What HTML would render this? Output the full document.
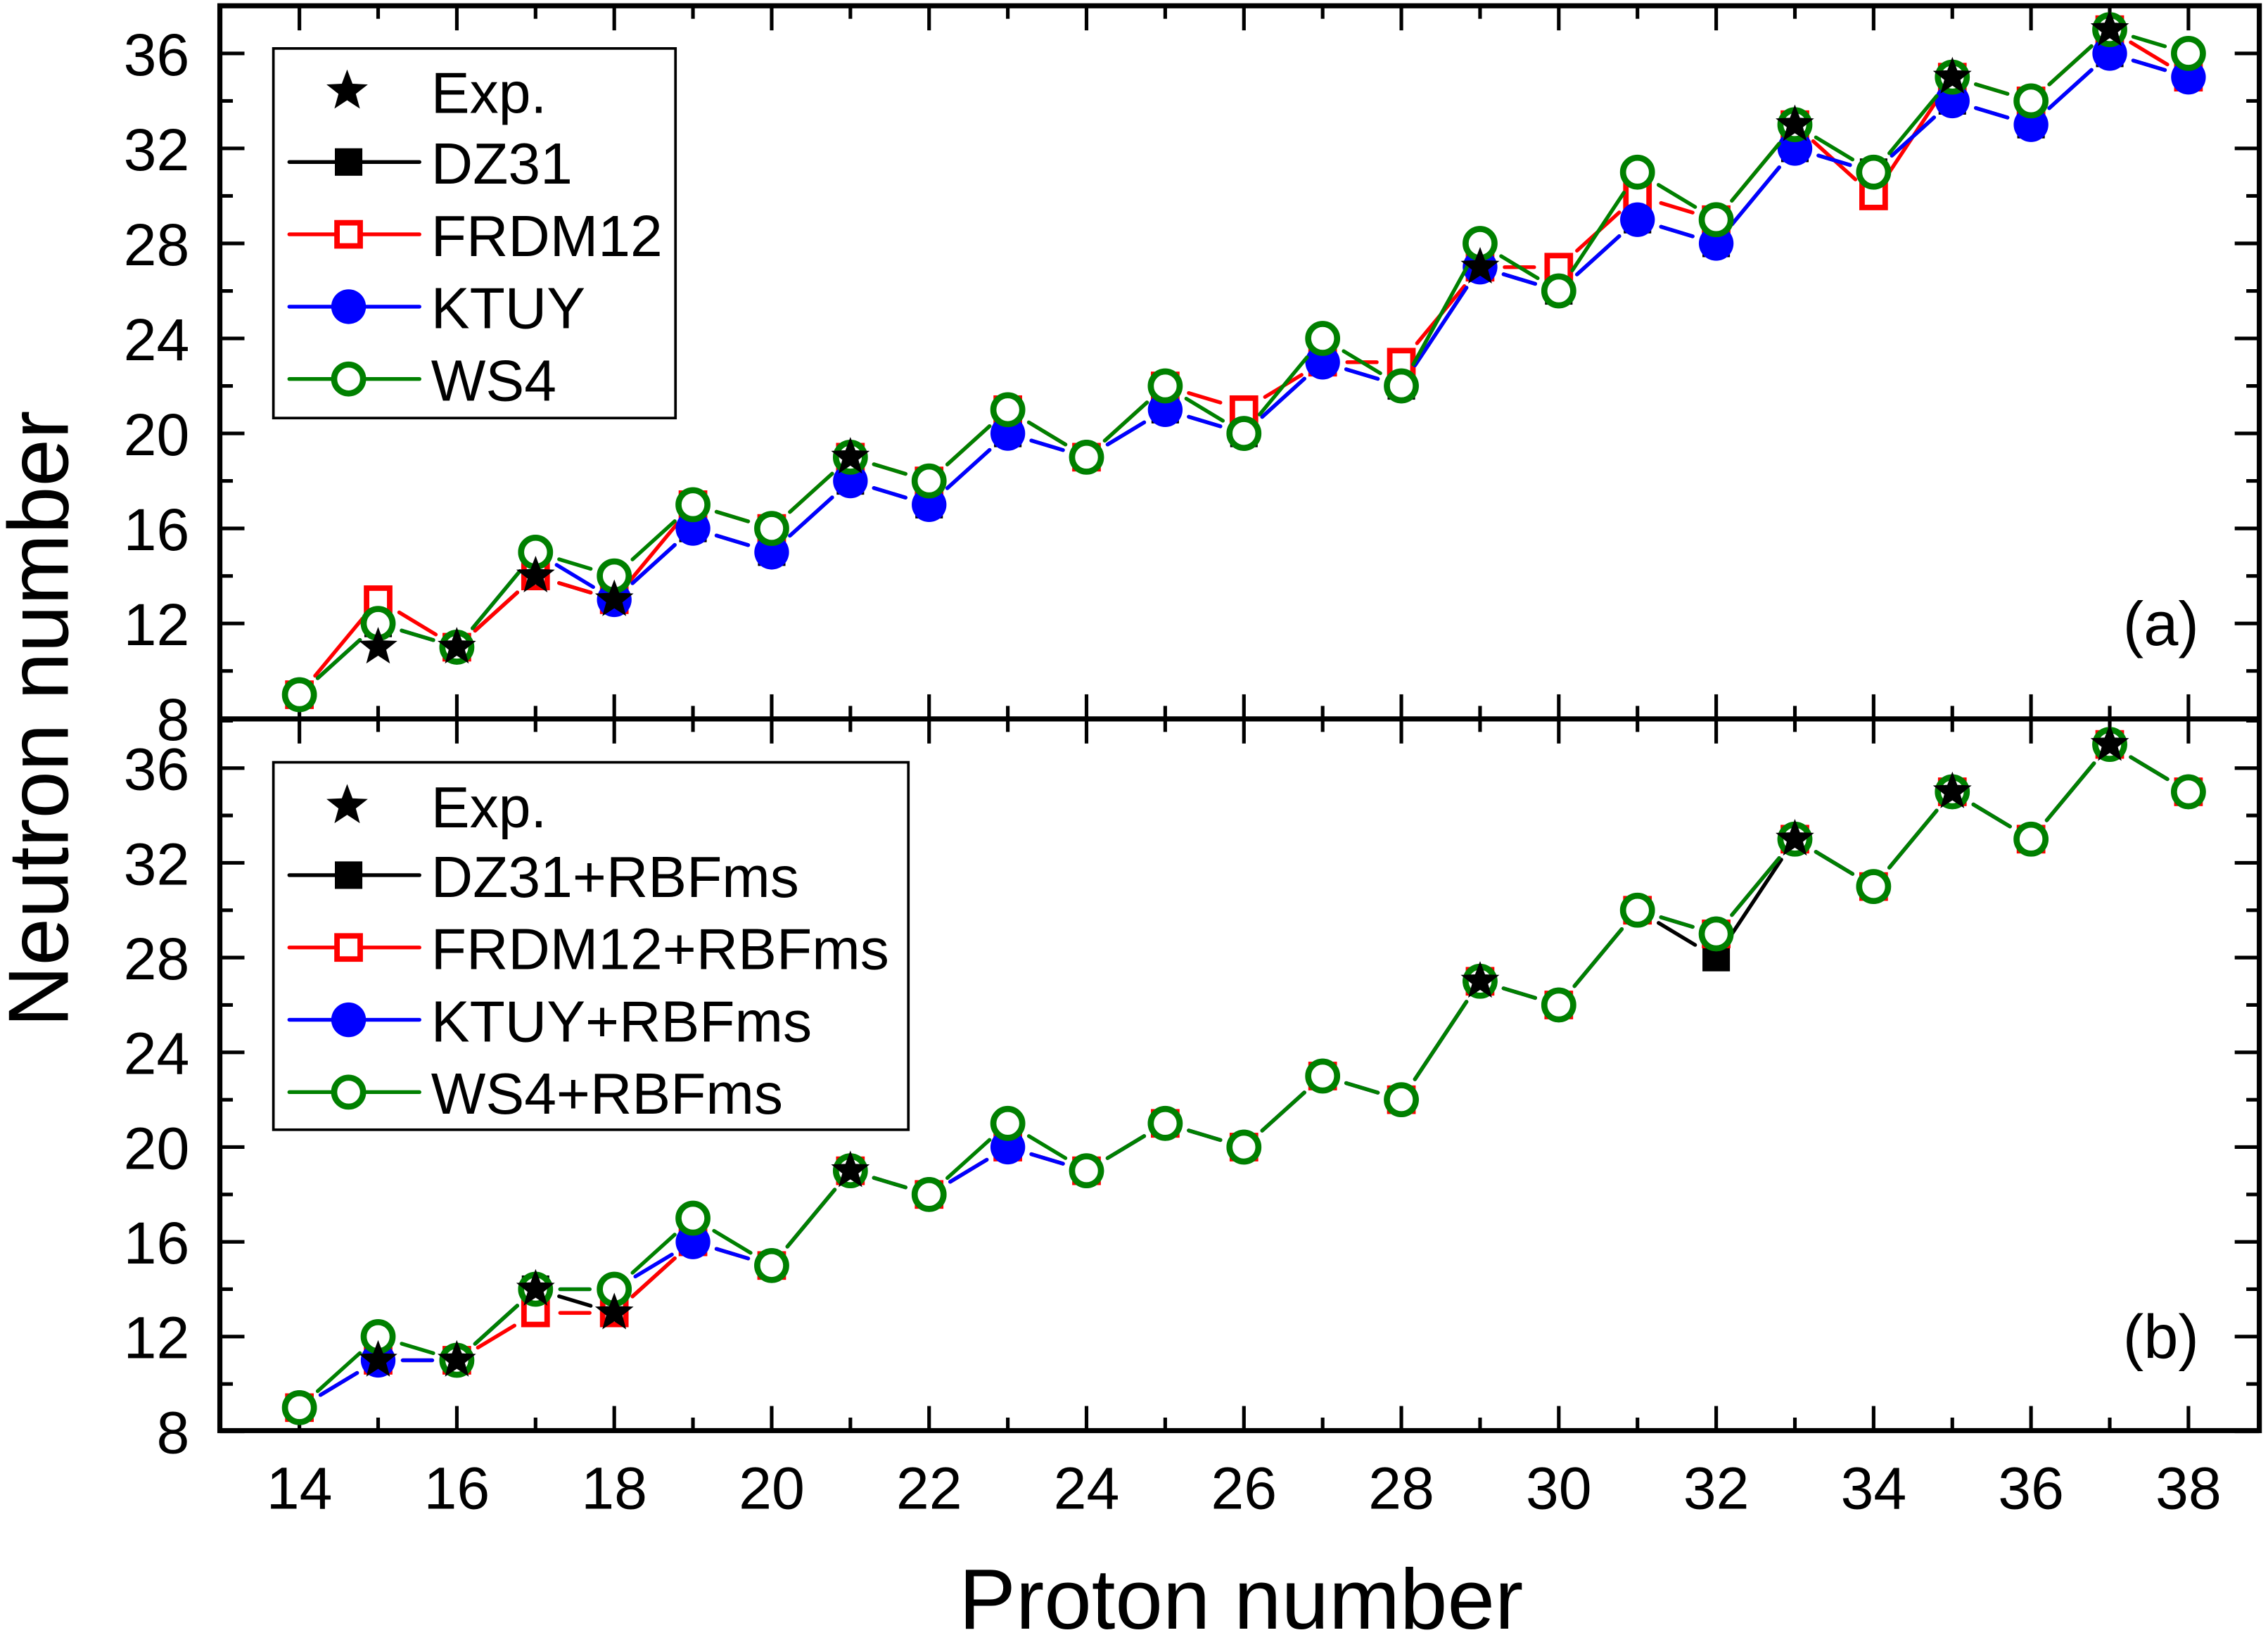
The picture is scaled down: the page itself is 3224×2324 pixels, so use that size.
<!DOCTYPE html>
<html><head><meta charset="utf-8"><style>html,body{margin:0;padding:0;background:#fff}svg{display:block}text{font-family:"Liberation Sans",Arial,sans-serif}</style></head>
<body>
<svg id="s" xmlns="http://www.w3.org/2000/svg" width="3224" height="2324" viewBox="0 0 1568 1130.3">
<rect width="1568" height="1131" fill="#fff"/>
<g id="g"></g>
</svg>
<script>
const NS="http://www.w3.org/2000/svg";const G=document.getElementById('g');
function el(t,a,txt){const e=document.createElementNS(NS,t);for(const k in a)e.setAttribute(k,a[k]);if(txt!==undefined)e.textContent=txt;G.appendChild(e);return e;}
const X=z=>207+(z-14)*54.417;
const Ya=n=>431-(n-12)*16.42;
const Yb=n=>924-(n-12)*16.375;
const L=152,R=1562,T=4,M=497,B=989;
el('rect',{x:L,y:T,width:R-L,height:B-T,fill:'none',stroke:'#000','stroke-width':3.5});
el('line',{x1:L,y1:M,x2:R,y2:M,stroke:'#000','stroke-width':3.5});
for(let z=14;z<=39;z++){const x=X(z);if(x>R-2)break;const len=(z%2==0)?17:9;
 [[B,-1],[M,-1],[M,1],[T,1]].forEach(([y,d])=>el('line',{x1:x,y1:y,x2:x,y2:y+d*len,stroke:'#000','stroke-width':2.5}));
 if(z%2==0)el('text',{x:x,y:1043,'font-size':41,'text-anchor':'middle'},z);}
function yt(Y,lo,hi){for(let n=8;n<=38;n+=2){const y=Y(n);if(y<lo-1||y>hi+1)continue;const len=(n%4==0)?17:9;
 el('line',{x1:L,y1:y,x2:L+len,y2:y,stroke:'#000','stroke-width':2.5});
 el('line',{x1:R,y1:y,x2:R-len,y2:y,stroke:'#000','stroke-width':2.5});
 if(n%4==0)el('text',{x:131,y:y+15,'font-size':41,'text-anchor':'end'},n);}}
yt(Ya,T,M);yt(Yb,M,B);
el('text',{x:1494,y:446,'font-size':43,'text-anchor':'middle'},'(a)');
el('text',{x:1494,y:939,'font-size':43,'text-anchor':'middle'},'(b)');
el('text',{x:858,y:1126,'font-size':59,'text-anchor':'middle'},'Proton number');
el('text',{x:0,y:0,'font-size':59,'text-anchor':'middle',transform:'translate(47,497) rotate(-90)'},'Neutron number');
const Z=[];for(let z=14;z<=38;z++)Z.push(z);
const A={
DZ:[9,12,11,14,13,16,15,18,17,20,19,21,20,23,22,27,26,29,28,32,31,34,33,36,35],
FR:[9,13,11,14,13,17,16,19,18,21,19,22,21,23,23,27,27,30,29,33,30,35,34,37,35],
KT:[9,12,11,15,13,16,15,18,17,20,19,21,20,23,22,27,26,29,28,32,31,34,33,36,35],
WS:[9,12,11,15,14,17,16,19,18,21,19,22,20,24,22,28,26,31,29,33,31,35,34,37,36]};
const Bd={
DZ:[9,11,11,14,13,16,15,19,18,20,19,21,20,23,22,27,26,30,28,33,31,35,33,37,35],
FR:[9,11,11,13,13,16,15,19,18,20,19,21,20,23,22,27,26,30,29,33,31,35,33,37,35],
KT:[9,11,11,14,14,16,15,19,18,20,19,21,20,23,22,27,26,30,29,33,31,35,33,37,35],
WS:[9,12,11,14,14,17,15,19,18,21,19,21,20,23,22,27,26,30,29,33,31,35,33,37,35]};
const EXP=[[15,11],[16,11],[17,14],[18,13],[21,19],[29,27],[33,33],[35,35],[37,37]];
const C={DZ:'#000',FR:'#f00',KT:'#00f',WS:'#008000'};
function seg(x1,y1,x2,y2,c,g){const dx=x2-x1,dy=y2-y1,d=Math.hypot(dx,dy);if(d<2*g+2)return;const ux=dx/d,uy=dy/d;
 el('line',{x1:x1+ux*g,y1:y1+uy*g,x2:x2-ux*g,y2:y2-uy*g,stroke:c,'stroke-width':2.6,'stroke-linecap':'round'});}
function mark(k,x,y){
 if(k=='DZ')el('rect',{x:x-9.5,y:y-9.5,width:19,height:19,fill:'#000'});
 else if(k=='FR')el('rect',{x:x-8,y:y-8,width:16,height:16,fill:'#fff',stroke:'#f00','stroke-width':3.8});
 else if(k=='KT')el('circle',{cx:x,cy:y,r:12,fill:'#00f'});
 else if(k=='WS')el('circle',{cx:x,cy:y,r:10,fill:'#fff',stroke:'#008000','stroke-width':4.2});}
function star(x,y,r){let p=[];for(let i=0;i<10;i++){const a=-Math.PI/2+i*Math.PI/5,rr=i%2?r*0.42:r;p.push((x+rr*Math.cos(a)).toFixed(1)+','+(y+rr*Math.sin(a)).toFixed(1));}
 el('polygon',{points:p.join(' '),fill:'#000'});}
function panel(D,Y){
 for(const k of ['DZ','FR','KT','WS']){const v=D[k];
  for(let i=0;i<v.length-1;i++)seg(X(Z[i]),Y(v[i]),X(Z[i+1]),Y(v[i+1]),C[k],17);
  for(let i=0;i<v.length;i++)mark(k,X(Z[i]),Y(v[i]));}
 EXP.forEach(([z,n])=>star(X(z),Y(n),14));}
panel(A,Ya);panel(Bd,Yb);
function legend(x0,y0,w,h,names,rows){
 el('rect',{x:x0,y:y0,width:w,height:h,fill:'#fff',stroke:'#000','stroke-width':1.8});
 star(240,rows[0],15);el('text',{x:298,y:rows[0]+15,'font-size':40},'Exp.');
 ['DZ','FR','KT','WS'].forEach((k,i)=>{const y=rows[i+1];
  el('line',{x1:200,y1:y,x2:232,y2:y,stroke:C[k],'stroke-width':2.6,'stroke-linecap':'round'});
  el('line',{x1:250,y1:y,x2:290,y2:y,stroke:C[k],'stroke-width':2.6,'stroke-linecap':'round'});
  mark(k,241,y);el('text',{x:298,y:y+15,'font-size':40},names[i]);});}
legend(189,33.5,278,255.5,['DZ31','FRDM12','KTUY','WS4'],[63,112,162,212,262]);
legend(189,527,439,254,['DZ31+RBFms','FRDM12+RBFms','KTUY+RBFms','WS4+RBFms'],[557,605,655,705,755]);
</script>
</body></html>
